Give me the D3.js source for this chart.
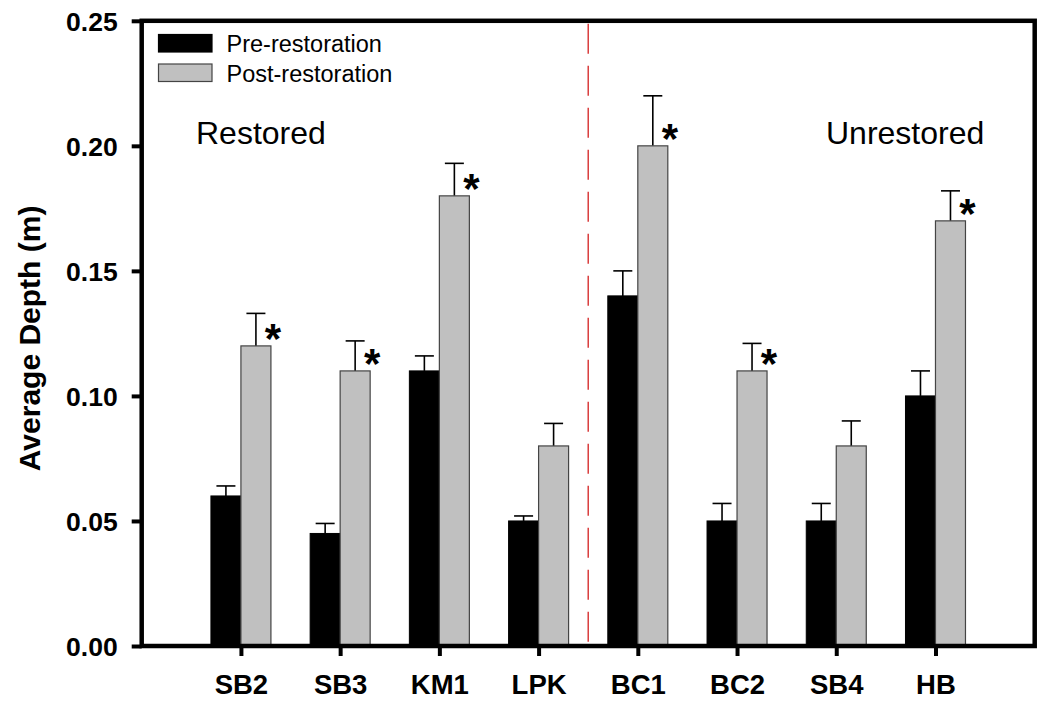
<!DOCTYPE html>
<html>
<head>
<meta charset="utf-8">
<script src="https://cdn.jsdelivr.net/npm/d3@7"></script>
<style>
  html, body { margin: 0; padding: 0; background: #fff; }
  svg { display: block; font-family: Arial, "Liberation Sans", Helvetica, sans-serif; }
</style>
</head>
<body>
<svg id="chart" width="1042" height="709"></svg>
<script>
// Sites along the x axis (first four restored, last four unrestored)
const sites = ["SB2", "SB3", "KM1", "LPK", "BC1", "BC2", "SB4", "HB"];
// Mean depth (m) before and after restoration
const preMean  = [0.060, 0.045, 0.110, 0.050, 0.140, 0.050, 0.050, 0.100];
const preErr   = [0.004, 0.004, 0.006, 0.002, 0.010, 0.007, 0.007, 0.010];
const postMean = [0.120, 0.110, 0.180, 0.080, 0.200, 0.110, 0.080, 0.170];
const postErr  = [0.013, 0.012, 0.013, 0.009, 0.020, 0.011, 0.010, 0.012];
// Sites with a significant change
const significant = ["SB2", "SB3", "KM1", "BC1", "BC2", "HB"];
const yTicks = [0, 0.05, 0.10, 0.15, 0.20, 0.25];
const seriesNames = ["Pre-restoration", "Post-restoration"];
const groupLabels = ["Restored", "Unrestored"];

const svg = d3.select("#chart");
const plotLeft = 141.7, plotRight = 1034.7, plotTop = 20.8, plotBottom = 646;
const barW = 30;

const x = d3.scalePoint().domain(sites).range([plotLeft, plotRight]).padding(1);
const y = d3.scaleLinear().domain([0, 0.25]).range([plotBottom, plotTop]);

const rows = sites.map((s, i) => ({
  site: s, pre: preMean[i], preE: preErr[i], post: postMean[i], postE: postErr[i]
}));

// Divider between restored and unrestored sites
const xDiv = (x("LPK") + x("BC1")) / 2;
svg.append("line")
  .attr("x1", xDiv).attr("x2", xDiv)
  .attr("y1", plotTop + 3).attr("y2", plotBottom)
  .attr("stroke", "#d42020").attr("stroke-width", 1.3)
  .attr("stroke-dasharray", "30,12");

// Error bars (upper only), drawn under the bars
const err = svg.append("g").attr("stroke", "#000").attr("stroke-width", 1.6).attr("fill", "none");
rows.forEach(d => {
  [[x(d.site) - barW / 2, d.pre, d.preE], [x(d.site) + barW / 2, d.post, d.postE]].forEach(([cx, m, e]) => {
    err.append("line").attr("x1", cx).attr("x2", cx).attr("y1", y(m)).attr("y2", y(m + e));
    err.append("line").attr("x1", cx - 9.5).attr("x2", cx + 9.5).attr("y1", y(m + e)).attr("y2", y(m + e));
  });
});

// Bars
const bars = svg.append("g");
bars.selectAll("rect.pre").data(rows).join("rect").attr("class", "pre")
  .attr("x", d => x(d.site) - barW).attr("width", barW)
  .attr("y", d => y(d.pre)).attr("height", d => y(0) - y(d.pre))
  .attr("fill", "#000").attr("stroke", "#000").attr("stroke-width", 1);
bars.selectAll("rect.post").data(rows).join("rect").attr("class", "post")
  .attr("x", d => x(d.site)).attr("width", barW)
  .attr("y", d => y(d.post)).attr("height", d => y(0) - y(d.post))
  .attr("fill", "#c0c0c0").attr("stroke", "#444").attr("stroke-width", 1.2);

// Significance markers
svg.append("g").selectAll("text").data(rows.filter(d => significant.includes(d.site))).join("text")
  .attr("x", d => x(d.site) + barW + 2)
  .attr("y", d => y(d.post) - 16 + 23)
  .attr("text-anchor", "middle")
  .attr("font-size", 42).attr("font-weight", "bold")
  .text("*");

// Axes
const yAxis = d3.axisLeft(y).tickValues(yTicks).tickFormat(d3.format(".2f")).tickSize(10).tickPadding(14);
const gy = svg.append("g").attr("transform", `translate(${plotLeft},0)`).call(yAxis);
gy.select(".domain").remove();
gy.selectAll(".tick line").attr("stroke", "#000").attr("stroke-width", 4);
gy.selectAll(".tick text").attr("font-size", 26.5).attr("font-weight", "bold").attr("fill", "#000")
  .attr("font-family", "Arial, 'Liberation Sans', sans-serif").attr("dy", "0.35em");

const xAxis = d3.axisBottom(x).tickSize(10).tickPadding(18);
const gx = svg.append("g").attr("transform", `translate(0,${plotBottom})`).call(xAxis);
gx.select(".domain").remove();
gx.selectAll(".tick line").attr("stroke", "#000").attr("stroke-width", 4);
gx.selectAll(".tick text").attr("font-size", 27.5).attr("font-weight", "bold").attr("fill", "#000")
  .attr("font-family", "Arial, 'Liberation Sans', sans-serif");

// Plot frame
svg.append("rect")
  .attr("x", plotLeft).attr("y", plotTop).attr("width", plotRight - plotLeft).attr("height", plotBottom - plotTop)
  .attr("fill", "none").attr("stroke", "#000").attr("stroke-width", 4.5);

// Axis title
svg.append("text")
  .attr("transform", `translate(40,${(plotTop + plotBottom) / 2 + 5}) rotate(-90)`)
  .attr("text-anchor", "middle")
  .attr("font-size", 30).attr("font-weight", "bold")
  .text("Average Depth (m)");

// Group labels
svg.append("text").attr("x", 196).attr("y", 144).attr("font-size", 32).text(groupLabels[0]);
svg.append("text").attr("x", 826).attr("y", 144).attr("font-size", 32).text(groupLabels[1]);

// Legend
const legend = svg.append("g");
const legendFill = ["#000", "#c0c0c0"];
const legendStroke = ["#000", "#444"];
seriesNames.forEach((name, i) => {
  const ly = 34.5 + i * 29.5;
  legend.append("rect").attr("x", 158.5).attr("y", ly).attr("width", 53.5).attr("height", 17.5)
    .attr("fill", legendFill[i]).attr("stroke", legendStroke[i]).attr("stroke-width", 1.2);
  legend.append("text").attr("x", 226.5).attr("y", ly + 17.5).attr("font-size", 23.5).text(name);
});
</script>
</body>
</html>
